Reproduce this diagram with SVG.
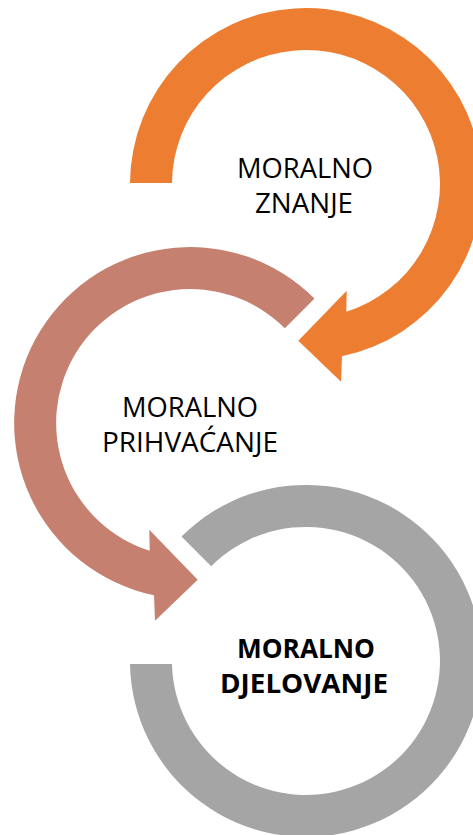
<svg xmlns="http://www.w3.org/2000/svg" width="473" height="835" viewBox="0 0 473 835">
<style>
.lbl{font-family:"Open Sans","Liberation Sans",sans-serif;font-size:27px;fill:#000;text-anchor:middle}
.b{font-weight:bold;font-size:26px}
</style>
<rect width="473" height="835" fill="#fff"/>
<g id="connectors"></g>
<g id="node-znanje">
<path fill="#ED7D31" d="M130,183 A176,176 0 1 1 342,356.3 L341,381.7 L298.3,340.7 L346.7,290.7 L346.3,311.8 A134,134 0 1 0 172,183 Z"/>
<text class="lbl" x="305" y="178" textLength="136" lengthAdjust="spacingAndGlyphs">MORALNO</text>
<text class="lbl" x="304" y="213" textLength="98" lengthAdjust="spacingAndGlyphs">ZNANJE</text>
</g>
<g id="node-prihvacanje">
<path fill="#C58070" d="M314.5,298.5 A176,176 0 1 0 154,595.3 L155,620.7 L197.7,579.7 L149.3,529.7 L149.7,550.8 A134,134 0 1 1 284.8,328.2 Z"/>
<text class="lbl" x="190" y="417" textLength="136" lengthAdjust="spacingAndGlyphs">MORALNO</text>
<text class="lbl" x="190" y="452" textLength="176" lengthAdjust="spacingAndGlyphs">PRIHVAĆANJE</text>
</g>
<g id="node-djelovanje">
<path fill="#A5A5A5" d="M181.5,536.5 A176,176 0 1 1 130,664 L172,664 A134,134 0 1 0 211.2,566.2 Z"/>
<text class="lbl b" x="306" y="658" textLength="138" lengthAdjust="spacingAndGlyphs">MORALNO</text>
<text class="lbl b" x="304" y="693" textLength="168" lengthAdjust="spacingAndGlyphs">DJELOVANJE</text>
</g>
</svg>
